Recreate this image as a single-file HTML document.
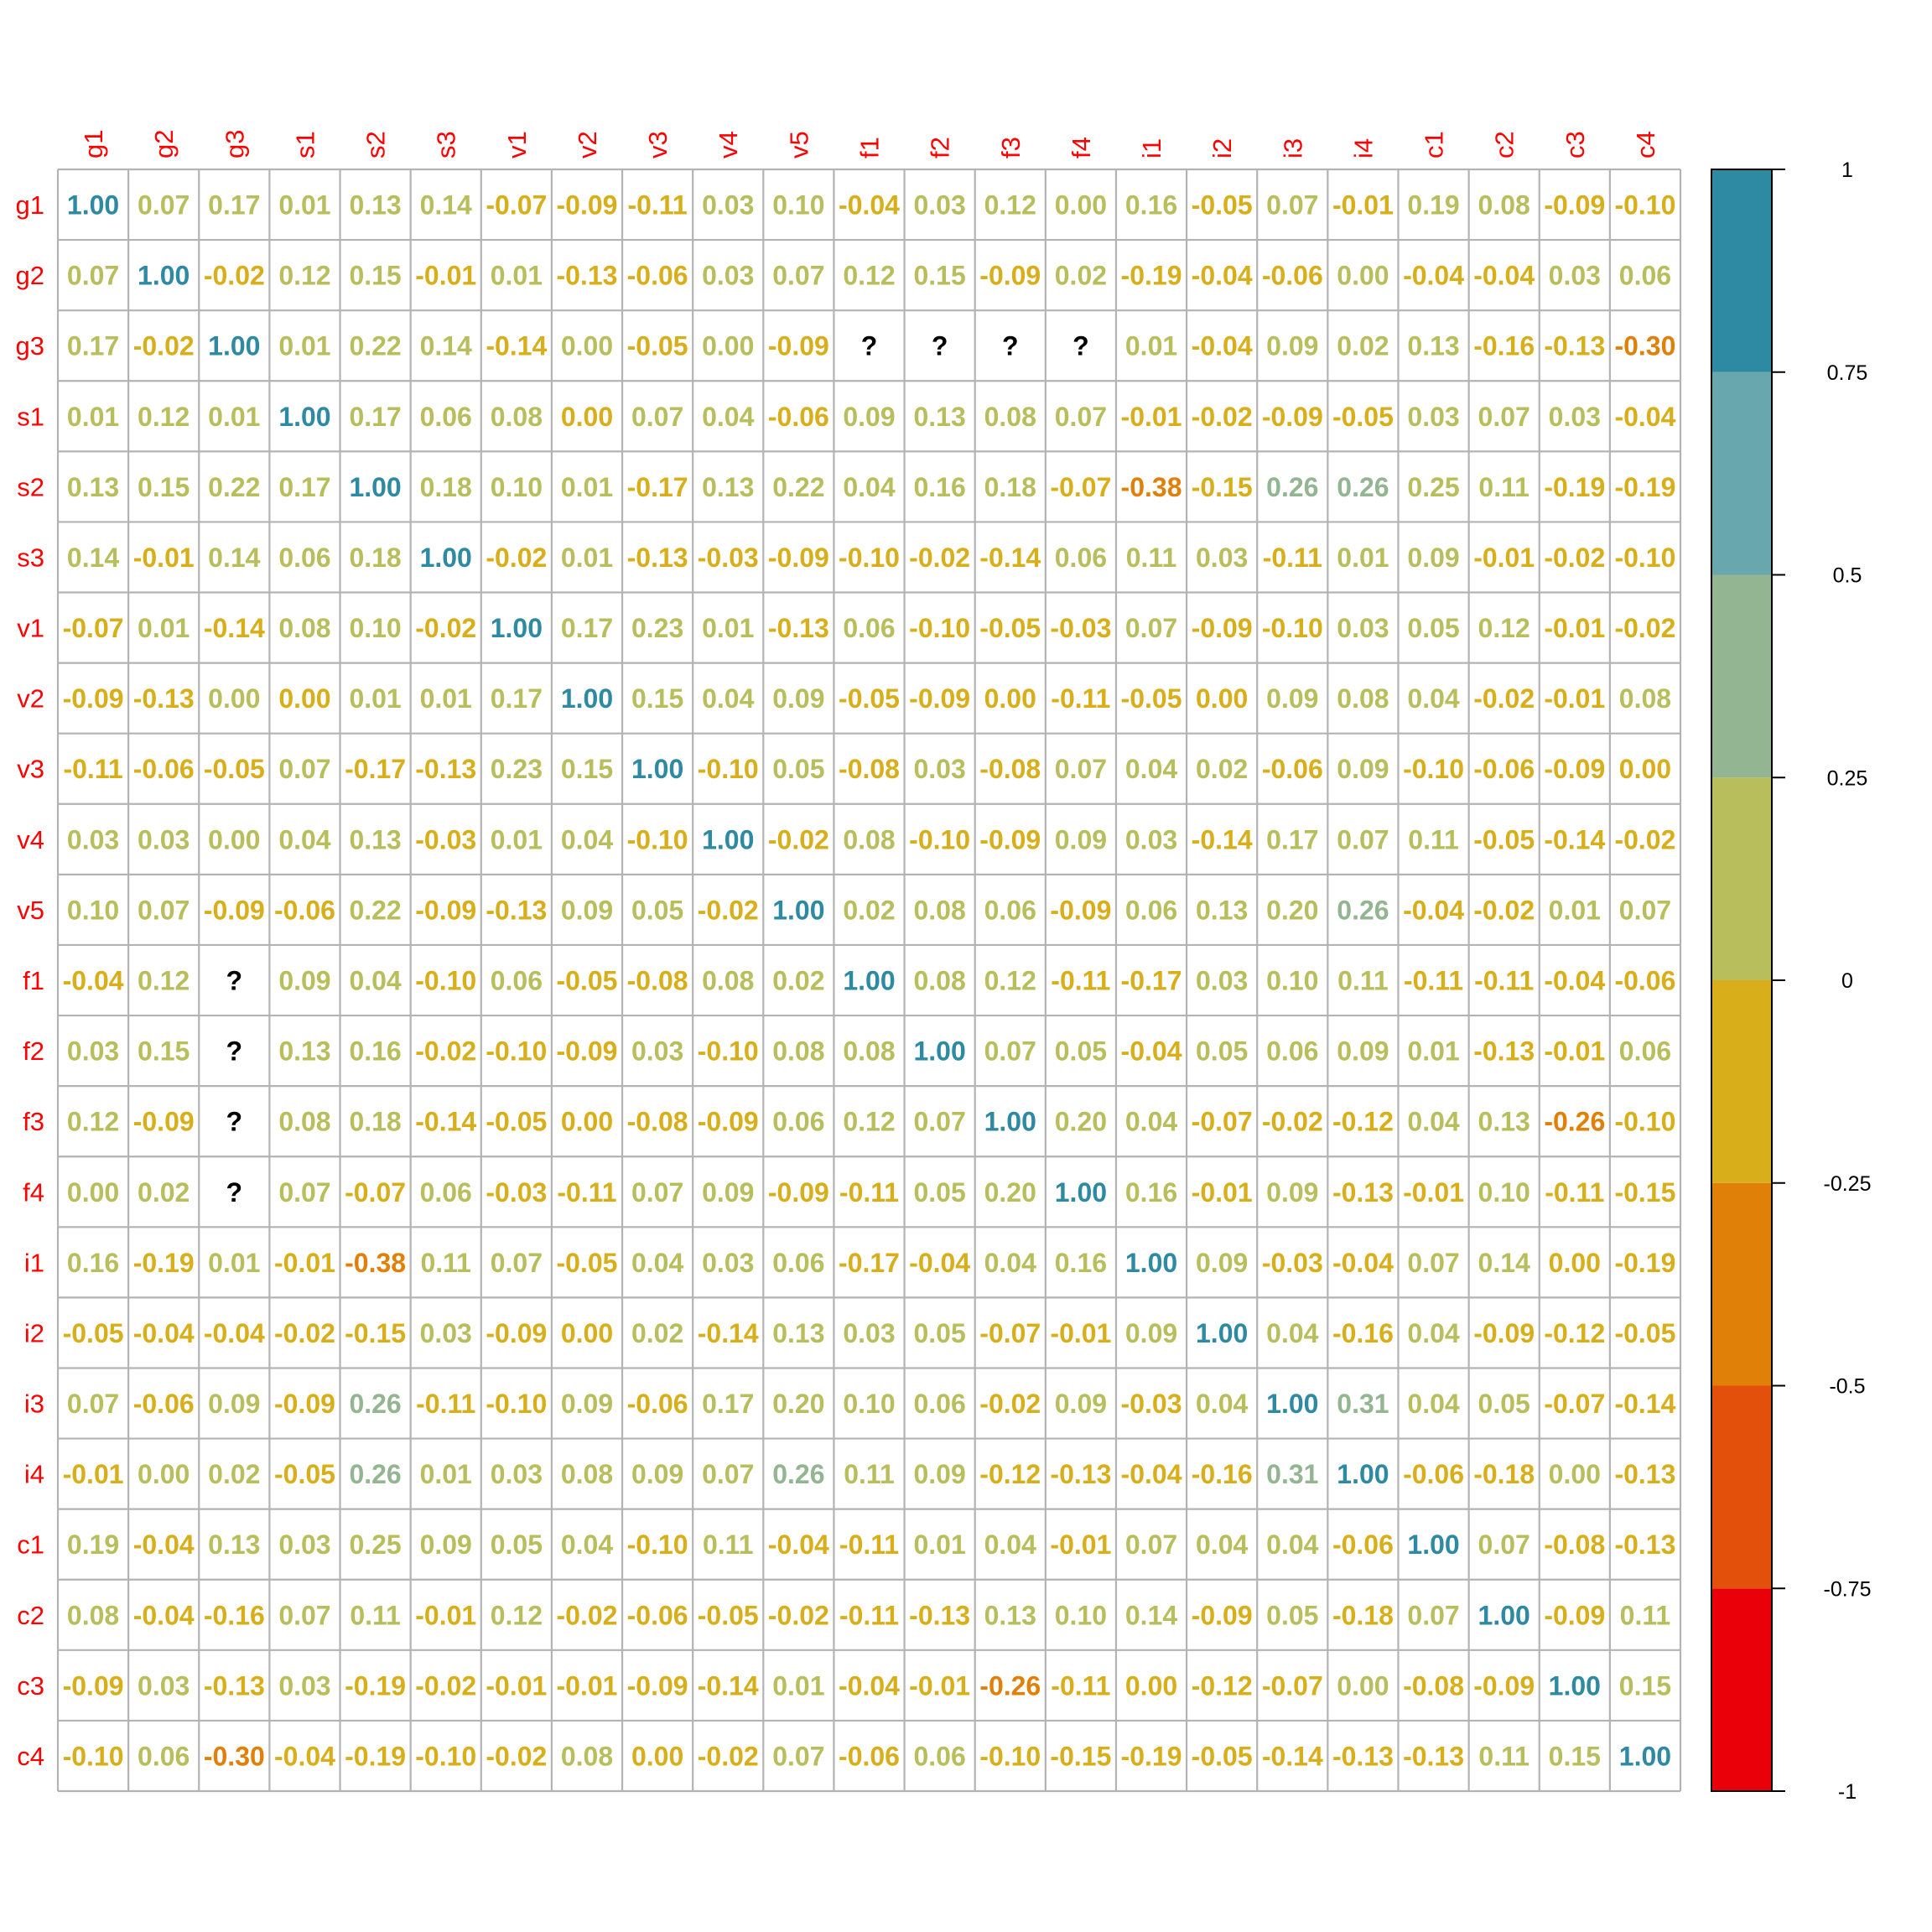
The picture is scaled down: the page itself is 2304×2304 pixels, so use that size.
<!DOCTYPE html>
<html><head><meta charset="utf-8"><style>
html,body{margin:0;padding:0;background:#fff;}
svg{display:block;font-family:"Liberation Sans",Arial,sans-serif;}
</style></head><body>
<svg id="chart" width="2304" height="2304" viewBox="0 0 2304 2304" xmlns="http://www.w3.org/2000/svg">
<rect width="2304" height="2304" fill="#fff"/>
<g id="cells"></g>
<g id="labels"></g>
<g id="legend"></g>
</svg>
<script>
const variables = ["g1","g2","g3","s1","s2","s3","v1","v2","v3","v4","v5","f1","f2","f3","f4","i1","i2","i3","i4","c1","c2","c3","c4"];
const legendTicks = [1,0.75,0.5,0.25,0,-0.25,-0.5,-0.75,-1];
const legendTickLabels = ["1","0.75","0.5","0.25","0","-0.25","-0.5","-0.75","-1"];
const binColors = ["#EA0008","#E3500B","#E08008","#D8AF1A","#B8BE5C","#93B591","#69A7AF","#2E89A3"];
const N = null;
const corr = [
[1.00,0.07,0.17,0.01,0.13,0.14,-0.07,-0.09,-0.11,0.03,0.10,-0.04,0.03,0.12,0.001,0.16,-0.05,0.07,-0.01,0.19,0.08,-0.09,-0.10],
[0.07,1.00,-0.02,0.12,0.15,-0.01,0.01,-0.13,-0.06,0.03,0.07,0.12,0.15,-0.09,0.02,-0.19,-0.04,-0.06,0.001,-0.04,-0.04,0.03,0.06],
[0.17,-0.02,1.00,0.01,0.22,0.14,-0.14,0.001,-0.05,0.001,-0.09,N,N,N,N,0.01,-0.04,0.09,0.02,0.13,-0.16,-0.13,-0.30],
[0.01,0.12,0.01,1.00,0.17,0.06,0.08,0,0.07,0.04,-0.06,0.09,0.13,0.08,0.07,-0.01,-0.02,-0.09,-0.05,0.03,0.07,0.03,-0.04],
[0.13,0.15,0.22,0.17,1.00,0.18,0.10,0.01,-0.17,0.13,0.22,0.04,0.16,0.18,-0.07,-0.38,-0.15,0.26,0.26,0.25,0.11,-0.19,-0.19],
[0.14,-0.01,0.14,0.06,0.18,1.00,-0.02,0.01,-0.13,-0.03,-0.09,-0.10,-0.02,-0.14,0.06,0.11,0.03,-0.11,0.01,0.09,-0.01,-0.02,-0.10],
[-0.07,0.01,-0.14,0.08,0.10,-0.02,1.00,0.17,0.23,0.01,-0.13,0.06,-0.10,-0.05,-0.03,0.07,-0.09,-0.10,0.03,0.05,0.12,-0.01,-0.02],
[-0.09,-0.13,0.001,0,0.01,0.01,0.17,1.00,0.15,0.04,0.09,-0.05,-0.09,0,-0.11,-0.05,0,0.09,0.08,0.04,-0.02,-0.01,0.08],
[-0.11,-0.06,-0.05,0.07,-0.17,-0.13,0.23,0.15,1.00,-0.10,0.05,-0.08,0.03,-0.08,0.07,0.04,0.02,-0.06,0.09,-0.10,-0.06,-0.09,0],
[0.03,0.03,0.001,0.04,0.13,-0.03,0.01,0.04,-0.10,1.00,-0.02,0.08,-0.10,-0.09,0.09,0.03,-0.14,0.17,0.07,0.11,-0.05,-0.14,-0.02],
[0.10,0.07,-0.09,-0.06,0.22,-0.09,-0.13,0.09,0.05,-0.02,1.00,0.02,0.08,0.06,-0.09,0.06,0.13,0.20,0.26,-0.04,-0.02,0.01,0.07],
[-0.04,0.12,N,0.09,0.04,-0.10,0.06,-0.05,-0.08,0.08,0.02,1.00,0.08,0.12,-0.11,-0.17,0.03,0.10,0.11,-0.11,-0.11,-0.04,-0.06],
[0.03,0.15,N,0.13,0.16,-0.02,-0.10,-0.09,0.03,-0.10,0.08,0.08,1.00,0.07,0.05,-0.04,0.05,0.06,0.09,0.01,-0.13,-0.01,0.06],
[0.12,-0.09,N,0.08,0.18,-0.14,-0.05,0,-0.08,-0.09,0.06,0.12,0.07,1.00,0.20,0.04,-0.07,-0.02,-0.12,0.04,0.13,-0.26,-0.10],
[0.001,0.02,N,0.07,-0.07,0.06,-0.03,-0.11,0.07,0.09,-0.09,-0.11,0.05,0.20,1.00,0.16,-0.01,0.09,-0.13,-0.01,0.10,-0.11,-0.15],
[0.16,-0.19,0.01,-0.01,-0.38,0.11,0.07,-0.05,0.04,0.03,0.06,-0.17,-0.04,0.04,0.16,1.00,0.09,-0.03,-0.04,0.07,0.14,0,-0.19],
[-0.05,-0.04,-0.04,-0.02,-0.15,0.03,-0.09,0,0.02,-0.14,0.13,0.03,0.05,-0.07,-0.01,0.09,1.00,0.04,-0.16,0.04,-0.09,-0.12,-0.05],
[0.07,-0.06,0.09,-0.09,0.26,-0.11,-0.10,0.09,-0.06,0.17,0.20,0.10,0.06,-0.02,0.09,-0.03,0.04,1.00,0.31,0.04,0.05,-0.07,-0.14],
[-0.01,0.001,0.02,-0.05,0.26,0.01,0.03,0.08,0.09,0.07,0.26,0.11,0.09,-0.12,-0.13,-0.04,-0.16,0.31,1.00,-0.06,-0.18,0.001,-0.13],
[0.19,-0.04,0.13,0.03,0.25,0.09,0.05,0.04,-0.10,0.11,-0.04,-0.11,0.01,0.04,-0.01,0.07,0.04,0.04,-0.06,1.00,0.07,-0.08,-0.13],
[0.08,-0.04,-0.16,0.07,0.11,-0.01,0.12,-0.02,-0.06,-0.05,-0.02,-0.11,-0.13,0.13,0.10,0.14,-0.09,0.05,-0.18,0.07,1.00,-0.09,0.11],
[-0.09,0.03,-0.13,0.03,-0.19,-0.02,-0.01,-0.01,-0.09,-0.14,0.01,-0.04,-0.01,-0.26,-0.11,0,-0.12,-0.07,0.001,-0.08,-0.09,1.00,0.15],
[-0.10,0.06,-0.30,-0.04,-0.19,-0.10,-0.02,0.08,0,-0.02,0.07,-0.06,0.06,-0.10,-0.15,-0.19,-0.05,-0.14,-0.13,-0.13,0.11,0.15,1.00]
];

const NS = "http://www.w3.org/2000/svg";
const gx0 = 69, gy0 = 202, gx1 = 2004, gy1 = 2136;
const n = variables.length;
const cw = (gx1 - gx0) / n, ch = (gy1 - gy0) / n;
const xPos = i => gx0 + i * cw;
const yPos = j => gy0 + j * ch;
const lb0 = 202, lb1 = 2136;
const legendY = v => lb1 - (v + 1) / 2 * (lb1 - lb0);
function colorFor(v){ let idx = Math.ceil((v + 1) / 0.25) - 1; idx = Math.max(0, Math.min(7, idx)); return binColors[idx]; }
function fmt(v){ return Math.abs(v) < 0.005 ? "0.00" : v.toFixed(2); }
function mk(tag, attrs, parent){ const e = document.createElementNS(NS, tag); for (const k in attrs) e.setAttribute(k, attrs[k]); parent.appendChild(e); return e; }

const cells = document.getElementById("cells");
for (let r = 0; r < n; r++) {
  for (let c = 0; c < n; c++) {
    const v = corr[r][c];
    const t = mk("text", {x: xPos(c) + cw / 2, y: yPos(r) + ch / 2 + 11.5, "text-anchor": "middle", "font-size": "32", "font-weight": "bold", fill: v === null ? "#000" : colorFor(v)}, cells);
    
    
    t.textContent = v === null ? "?" : fmt(v);
  }
}
for (let i = 0; i <= n; i++) {
  const vl = mk("line", {x1: xPos(i), x2: xPos(i), y1: gy0, y2: gy1, stroke: "#B3B3B3", "stroke-width": "2.2"}, cells);
  
  
  const hl = mk("line", {x1: gx0, x2: gx1, y1: yPos(i), y2: yPos(i), stroke: "#B3B3B3", "stroke-width": "2.2"}, cells);
  
  
}

const labels = document.getElementById("labels");
variables.forEach((name, i) => {
  const rl = mk("text", {x: 53, y: yPos(i) + ch / 2 + 11, "text-anchor": "end", "font-size": "31", fill: "#FF0000"}, labels);
  
  
  rl.textContent = name;
  const cx = xPos(i) + cw / 2 + 11;
  const cl = mk("text", {x: cx, y: 189, "text-anchor": "start", "font-size": "31", fill: "#FF0000", transform: "rotate(-90 " + cx + " 189)"}, labels);
  
  
  cl.textContent = name;
});

const legend = document.getElementById("legend");
const lx0 = 2041, lx1 = 2113;
for (let b = 0; b < binColors.length; b++) {
  const lo = -1 + b * 0.25, hi = lo + 0.25;
  const rc = mk("rect", {x: lx0, y: legendY(hi), width: lx1 - lx0, height: legendY(lo) - legendY(hi), fill: binColors[b]}, legend);
  
  
}
const border = mk("rect", {x: lx0, y: lb0, width: lx1 - lx0, height: lb1 - lb0, fill: "none", stroke: "#000", "stroke-width": "2"}, legend);


legendTicks.forEach((v, i) => {
  const y = legendY(v);
  const tk = mk("line", {x1: lx1, x2: lx1 + 16, y1: y, y2: y, stroke: "#000", "stroke-width": "2"}, legend);
  
  
  const tl = mk("text", {x: 2203, y: y + 9, "text-anchor": "middle", "font-size": "25", fill: "#000"}, legend);
  
  
  tl.textContent = legendTickLabels[i];
});
</script>
</body></html>
